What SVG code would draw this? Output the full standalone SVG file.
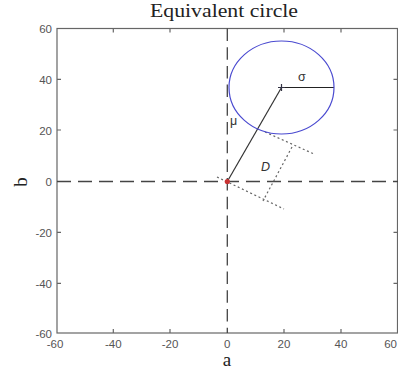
<svg xmlns="http://www.w3.org/2000/svg" width="398" height="370" viewBox="0 0 398 370">
<style>
.frame{fill:none;stroke:#666;stroke-width:1.2}
.tick{stroke:#666;stroke-width:1.2}
.tl{font-family:"Liberation Sans",Arial,sans-serif;font-size:11.5px;fill:#555}
.ax{font-family:"Liberation Serif","Times New Roman",serif;font-size:19px;fill:#222}
.dash{stroke:#444;stroke-width:1.3;fill:none}
.dot{stroke:#666;stroke-width:1.2;stroke-dasharray:2,2.6;fill:none}
.sym{font-family:"Liberation Sans",Arial,sans-serif;font-size:12.5px;fill:#333}
</style>
<rect width="398" height="370" fill="#fff"/>
<g id="title"><text class="ax" x="224" y="17" text-anchor="middle" textLength="148" lengthAdjust="spacingAndGlyphs">Equivalent circle</text></g>
<g id="axes">
<rect class="frame" x="57" y="28.5" width="340.5" height="304.5"/>
<path class="tick" d="M113.3 28.5v4M170 28.5v4M284 28.5v4M341 28.5v4M113.3 333v-4M170 333v-4M284 333v-4M341 333v-4M57 79.3h4M57 130h4M57 232.3h4M57 283.3h4M397.5 79.3h-4M397.5 130h-4M397.5 232.3h-4M397.5 283.3h-4"/>
<g class="tl" text-anchor="end">
<text x="52" y="33">60</text><text x="52" y="83.8">40</text><text x="52" y="134.5">20</text><text x="52" y="186">0</text><text x="52" y="236.8">-20</text><text x="52" y="287.8">-40</text><text x="52" y="337.5">-60</text>
</g>
<g class="tl" text-anchor="middle">
<text x="55" y="348">-60</text><text x="113.3" y="348">-40</text><text x="170" y="348">-20</text><text x="227.3" y="348">0</text><text x="284" y="348">20</text><text x="341" y="348">40</text><text x="397" y="348" text-anchor="end">60</text>
</g>
<text class="ax" x="227" y="366" text-anchor="middle">a</text>
<text class="ax" transform="translate(27 182) rotate(-90)" text-anchor="middle">b</text>
</g>
<g id="connectors">
<line class="dash" x1="57" y1="181.5" x2="398" y2="181.5" stroke-dasharray="14,7"/>
<line class="dash" x1="227.3" y1="28.5" x2="227.3" y2="333" stroke-dasharray="12.5,6.2"/>
<line class="dot" x1="265" y1="132" x2="314" y2="154"/>
<line class="dot" x1="217" y1="177" x2="284" y2="209"/>
<line class="dot" x1="292" y1="147" x2="263" y2="201"/>
<line id="mu-line" x1="227.3" y1="181.5" x2="281.5" y2="87.5" stroke="#333" stroke-width="1.2"/>
<line id="sigma-line" x1="281.5" y1="87.5" x2="334" y2="87.5" stroke="#222" stroke-width="1.2"/>
</g>
<g id="circle">
<ellipse cx="281.5" cy="87.5" rx="52.5" ry="46.5" fill="none" stroke="#4a4ad0" stroke-width="1.2"/>
<path d="M281.5 84v7M278 87.5h7" stroke="#334" stroke-width="1.2"/>
</g>
<g id="origin"><circle cx="227.3" cy="181.5" r="2.6" fill="#c83232"/></g>
<g id="labels">
<text class="sym" x="298" y="81">σ</text>
<text class="sym" x="230" y="125">μ</text>
<text class="sym" x="261" y="170.5" font-style="italic" font-size="14">D</text>
</g>
</svg>
